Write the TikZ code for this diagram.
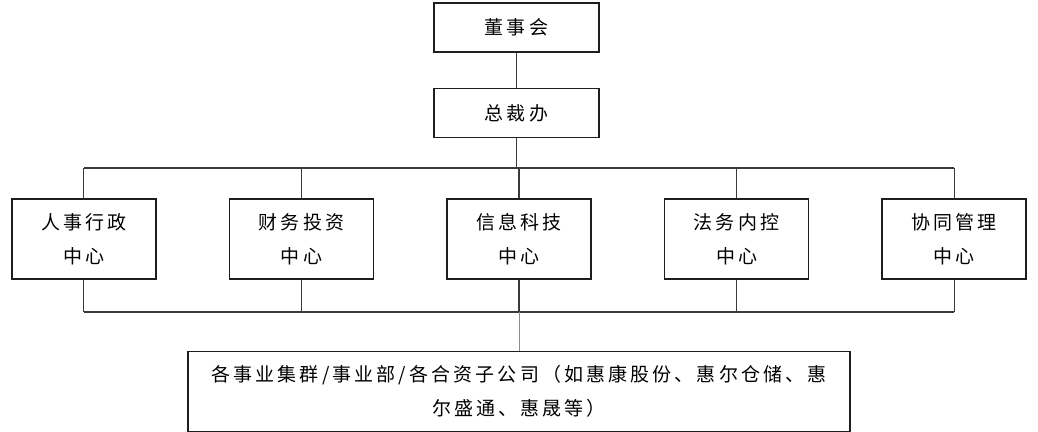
\documentclass[tikz,border=0pt]{standalone}
\usepackage{fontspec}
\newfontfamily\cjk[LetterSpace=16.5]{Noto Sans CJK SC}
\usepackage{tikz}
\usetikzlibrary{positioning}
\definecolor{orgbox}{HTML}{1E1E1E}
\definecolor{orgline}{HTML}{3A3A3A}
\definecolor{orggrey}{HTML}{8C8C8C}

\begin{document}
\begin{tikzpicture}[
  font=\cjk\fontsize{13.5pt}{24pt}\selectfont,
  node distance=0.875cm and 1.8cm,
  top/.style={rectangle,draw=orgbox,line width=1.1pt,inner sep=0pt,
    minimum width=4.125cm,minimum height=1.225cm,align=center},
  dept/.style={rectangle,draw=orgbox,line width=1.1pt,inner sep=0pt,
    minimum width=3.6cm,minimum height=2cm,align=center},
  unit/.style={rectangle,draw=orgbox,line width=1.1pt,inner sep=0pt,
    minimum width=16.55cm,minimum height=2cm,align=center},
  edge/.style={orgline,line width=0.8pt},
  thinedge/.style={orggrey,line width=0.5pt}]
  \useasboundingbox (0,0) rectangle (25.95,-10.8);
  \node[top] (dsh) at (12.9125,-0.6875) {董事会};
  \node[top,below=of dsh] (zcb) {总裁办};
  \node[dept] (xxkj) at (12.975,-5.975) {信息科技\\中心};
  \node[dept,left=of xxkj] (cwtz) {财务投资\\中心};
  \node[dept,left=of cwtz] (rsxz) {人事行政\\中心};
  \node[dept,right=of xxkj] (fwnk) {法务内控\\中心};
  \node[dept,right=of fwnk] (xtgl) {协同管理\\中心};
  \node[unit,below=1.775cm of xxkj] (jt) {各事业集群/事业部/各合资子公司（如惠康股份、惠尔仓储、惠\\尔盛通、惠晟等）};
  \coordinate (tbar) at (0,-4.2);
  \coordinate (bbar) at (0,-7.8);
  \draw[edge] (dsh) -- (zcb);
  \draw[edge] (zcb) -- (zcb |- tbar);
  \draw[edge] (rsxz.north |- tbar) -- (xtgl.north |- tbar);
  \draw[edge] (rsxz.south |- bbar) -- (xtgl.south |- bbar);
  \foreach \d in {rsxz,cwtz,xxkj,fwnk,xtgl}{
    \draw[edge] (\d) -- (\d |- tbar);
    \draw[edge] (\d) -- (\d |- bbar);
  }
  \draw[thinedge] (jt) -- (jt |- bbar);
\end{tikzpicture}
\end{document}
